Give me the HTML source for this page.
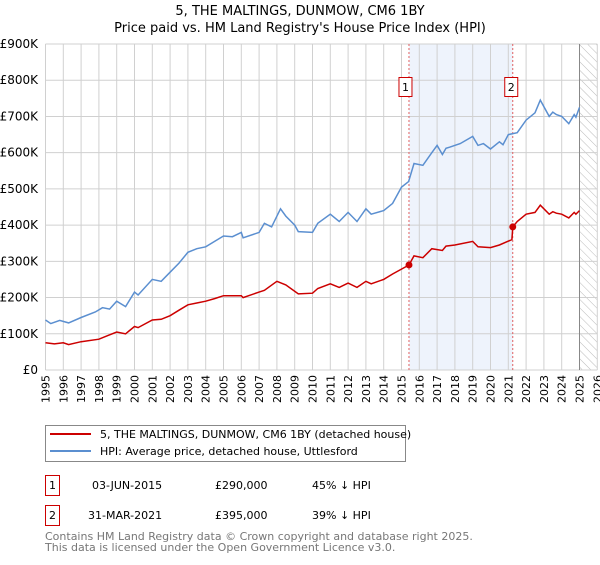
<!DOCTYPE html>
<html><head><meta charset="utf-8"><style>
body{margin:0;background:#fff;font-family:"Liberation Sans","DejaVu Sans",sans-serif;}
svg text{font-family:"DejaVu Sans","Liberation Sans",sans-serif;}
</style></head><body>
<svg id="c" width="600" height="560" xmlns="http://www.w3.org/2000/svg">
<defs><pattern id="hatch" width="6" height="6" patternUnits="userSpaceOnUse" patternTransform="rotate(-45)"><line x1="0" y1="0" x2="0" y2="6" stroke="#bbb" stroke-width="1"/></pattern></defs>
<text x="300" y="15" text-anchor="middle" font-size="13">5, THE MALTINGS, DUNMOW, CM6 1BY</text>
<text x="300" y="32" text-anchor="middle" font-size="13">Price paid vs. HM Land Registry's House Price Index (HPI)</text>
<g id="plot"></g>
<g>
<rect x="45.5" y="425.5" width="360" height="36" fill="#fff" stroke="#888"/>
<line x1="50" y1="434" x2="91" y2="434" stroke="#cc0000" stroke-width="2"/>
<text x="100" y="438" font-size="11">5, THE MALTINGS, DUNMOW, CM6 1BY (detached house)</text>
<line x1="50" y1="451" x2="91" y2="451" stroke="#5b8fd0" stroke-width="2"/>
<text x="100" y="455" font-size="11">HPI: Average price, detached house, Uttlesford</text>
</g>
<g font-size="11">
<rect x="45.5" y="475.5" width="14" height="20" fill="#fff" stroke="#cc0000"/><text x="52.5" y="489" text-anchor="middle">1</text>
<text x="92" y="489">03-JUN-2015</text><text x="215" y="489">£290,000</text><text x="312" y="489">45% ↓ HPI</text>
<rect x="45.5" y="505.5" width="14" height="20" fill="#fff" stroke="#cc0000"/><text x="52.5" y="519" text-anchor="middle">2</text>
<text x="88" y="519">31-MAR-2021</text><text x="215" y="519">£395,000</text><text x="312" y="519">39% ↓ HPI</text>
</g>
<text x="45" y="540" font-size="11" fill="#777">Contains HM Land Registry data © Crown copyright and database right 2025.</text>
<text x="45" y="551" font-size="11" fill="#777">This data is licensed under the Open Government Licence v3.0.</text>
</svg>
<script>
const years=[1995,1996,1997,1998,1999,2000,2001,2002,2003,2004,2005,2006,2007,2008,2009,2010,2011,2012,2013,2014,2015,2016,2017,2018,2019,2020,2021,2022,2023,2024,2025,2026];
const yTicks=[0,100000,200000,300000,400000,500000,600000,700000,800000,900000];
const yTickLabels=["£0","£100K","£200K","£300K","£400K","£500K","£600K","£700K","£800K","£900K"];
const hpiT=[1995,1995.3,1995.8,1996.3,1997,1997.8,1998.2,1998.6,1999,1999.5,2000,2000.2,2001,2001.5,2002,2002.5,2003,2003.5,2004,2004.5,2005,2005.5,2006,2006.1,2007,2007.3,2007.7,2008.2,2008.5,2009,2009.2,2010,2010.3,2011,2011.5,2012,2012.5,2013,2013.3,2014,2014.5,2015,2015.4,2015.7,2016.2,2016.7,2017,2017.3,2017.5,2017.7,2018.3,2019,2019.3,2019.6,2020,2020.5,2020.7,2021,2021.5,2022,2022.5,2022.8,2023.3,2023.5,2023.7,2024,2024.4,2024.7,2024.8,2025];
const hpiV=[138,128,137,130,145,160,172,168,190,175,215,207,250,245,270,295,325,335,340,355,370,368,380,365,380,405,395,445,425,400,382,380,405,430,410,435,410,445,430,440,460,505,520,570,565,600,620,595,612,615,625,645,620,625,610,630,622,650,655,690,710,745,700,712,705,700,680,705,698,725];
const propT=[1995,1995.5,1996,1996.3,1997,1998,1998.5,1999,1999.5,2000,2000.2,2001,2001.5,2002,2002.5,2003,2003.5,2004,2004.5,2005,2006,2006.1,2007,2007.3,2008,2008.5,2009.2,2010,2010.3,2011,2011.5,2012,2012.5,2013,2013.3,2014,2014.5,2015.42,2015.7,2016.2,2016.7,2017.3,2017.5,2018,2019,2019.3,2020,2020.5,2021.2,2021.25,2021.5,2022,2022.5,2022.8,2023.3,2023.5,2023.7,2024,2024.4,2024.7,2024.8,2025];
const propV=[75,72,75,70,78,85,95,105,100,120,117,138,140,150,165,180,185,190,197,205,205,200,215,220,245,235,210,212,225,238,228,240,228,245,238,250,265,290,315,310,335,330,342,345,355,340,338,345,360,395,410,430,435,455,430,437,433,430,420,435,430,440];
const saleT=[2015.42,2021.25];
const saleV=[290,395];
const saleLabels=["1","2"];
const X0=45.5,XS=17.8,Y0=370,YT=44,YMAX=900000;
const x=t=>X0+(t-1995)*XS;
const y=v=>Y0-(v/YMAX)*(Y0-YT);
const NS="http://www.w3.org/2000/svg";
const g=document.getElementById('plot');
function mk(tag,attrs){const e=document.createElementNS(NS,tag);for(const k in attrs)e.setAttribute(k,attrs[k]);g.appendChild(e);return e;}
let r=mk('rect',{x:x(saleT[0]),y:YT,width:x(saleT[1])-x(saleT[0]),height:Y0-YT,fill:'#eef3fc'});


r=mk('rect',{x:x(2025),y:YT,width:x(2026)-x(2025),height:Y0-YT,fill:'url(#hatch)'});


years.forEach(yr=>{
  const l=mk('line',{x1:x(yr),x2:x(yr),y1:YT,y2:Y0,stroke:'#d0d0d0','stroke-width':1});
  
  
  const t=mk('text',{x:0,y:0,'font-size':11,'text-anchor':'end',transform:`translate(${x(yr)+4},375) rotate(-90)`});
  t.textContent=yr;
  
  
});
yTicks.forEach((v,i)=>{
  const l=mk('line',{x1:X0,x2:x(2026),y1:y(v),y2:y(v),stroke:'#d0d0d0','stroke-width':1});
  
  
  const t=mk('text',{x:38,y:y(v)+4,'font-size':12,'text-anchor':'end'});
  t.textContent=yTickLabels[i];
  
  
});
let dl=mk('line',{x1:x(2025),x2:x(2025),y1:YT,y2:Y0,stroke:'#888','stroke-width':1});


saleT.forEach((t,i)=>{
  const l=mk('line',{x1:x(t),x2:x(t),y1:YT,y2:Y0,stroke:'#e06060','stroke-width':1,'stroke-dasharray':'2,2'});
  
  
  const b=mk('rect',{x:x(t)-6-(i?2:4),y:77.5,width:13,height:19,fill:'#fff',stroke:'#cc0000'});
  
  
  const tx=mk('text',{x:x(t)-(i?2:4)+0.5,y:91,'font-size':11,'text-anchor':'middle'});
  tx.textContent=saleLabels[i];
  
  
});
const pts=(T,V)=>T.map((t,i)=>x(t).toFixed(1)+','+y(V[i]*1000).toFixed(1)).join(' ');
let p=mk('polyline',{points:pts(hpiT,hpiV),fill:'none',stroke:'#5b8fd0','stroke-width':1.5});


p=mk('polyline',{points:pts(propT,propV),fill:'none',stroke:'#cc0000','stroke-width':1.5});


saleT.forEach((t,i)=>{
  const c=mk('circle',{cx:x(t),cy:y(saleV[i]*1000),r:3.5,fill:'#cc0000'});
  
  
});
</script>
</body></html>
